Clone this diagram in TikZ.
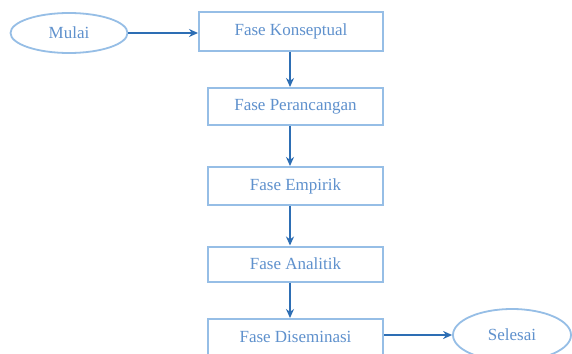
\documentclass[tikz,border=0pt]{standalone}
\usepackage{fontspec}
\setmainfont{Liberation Serif}
\usetikzlibrary{arrows.meta,shapes.geometric}
\definecolor{boxc}{RGB}{150,190,230}
\definecolor{txtc}{RGB}{95,145,205}
\definecolor{arrc}{RGB}{45,110,180}
\begin{document}
\begin{tikzpicture}[x=1pt,y=-1pt,
  phase/.style={draw=boxc,line width=2pt,fill=white,text=txtc,font=\fontsize{17}{19}\selectfont,inner sep=0pt},
  term/.style={ellipse,draw=boxc,line width=1.8pt,fill=white,text=txtc,font=\fontsize{17}{19}\selectfont,inner sep=0pt},
  conn/.style={draw=arrc,line width=1.5pt,-{Stealth[length=9pt,width=8pt]}}]
\useasboundingbox (0,0) rectangle (572,353);
\clip (0,0) rectangle (572,353);
\fill[white] (0,0) rectangle (572,353);
\coordinate (ax) at (290,0);
\node[term,minimum width=117pt,minimum height=40pt] (mulai) at (69,33) {Mulai};
\node[phase,minimum width=184pt,minimum height=39pt] (k) at (291,31.5) {Fase Konseptual};
\node[phase,minimum width=175pt,minimum height=37pt] (p) at (295.5,106.5) {Fase Perancangan};
\node[phase,minimum width=175pt,minimum height=38pt] (e) at (295.5,186) {Fase Empirik};
\node[phase,minimum width=175pt,minimum height=35pt] (a) at (295.5,264) {Fase Analitik};
\node[phase,minimum width=175pt,minimum height=36pt] (d) at (295.5,337) {Fase Diseminasi};
\node[term,minimum width=118pt,minimum height=52pt] (s) at (512,335) {Selesai};
\draw[conn] (mulai) -- (k.west |- mulai);
\draw[conn] (k.south -| ax) -- (p.north -| ax);
\draw[conn] (p.south -| ax) -- (e.north -| ax);
\draw[conn] (e.south -| ax) -- (a.north -| ax);
\draw[conn] (a.south -| ax) -- (d.north -| ax);
\draw[conn] (d.east |- s) -- (s);
\end{tikzpicture}
\end{document}
